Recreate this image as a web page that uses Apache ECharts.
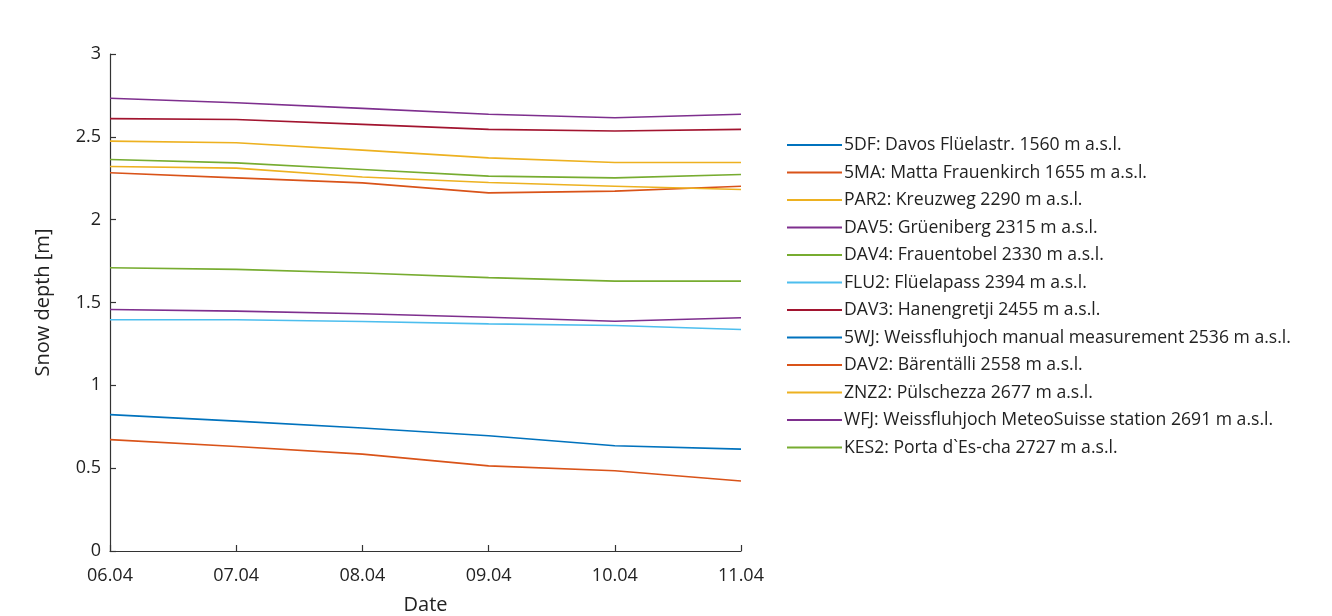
<!DOCTYPE html>
<html><head><meta charset="utf-8">
<script src="https://cdn.jsdelivr.net/npm/echarts@6/dist/echarts.min.js"></script>
<style>html,body{margin:0;padding:0;background:#fff}#c{width:1332px;height:616px}</style>
</head><body><div id="c"></div>
<script>
const dates = ['06.04','07.04','08.04','09.04','10.04','11.04'];
const yTicks = [0, 0.5, 1, 1.5, 2, 2.5, 3];
const names = [
  '5DF: Davos Flüelastr. 1560 m a.s.l.',
  '5MA: Matta Frauenkirch 1655 m a.s.l.',
  'PAR2: Kreuzweg 2290 m a.s.l.',
  'DAV5: Grüeniberg 2315 m a.s.l.',
  'DAV4: Frauentobel 2330 m a.s.l.',
  'FLU2: Flüelapass 2394 m a.s.l.',
  'DAV3: Hanengretji 2455 m a.s.l.',
  '5WJ: Weissfluhjoch manual measurement 2536 m a.s.l.',
  'DAV2: Bärentälli 2558 m a.s.l.',
  'ZNZ2: Pülschezza 2677 m a.s.l.',
  'WFJ: Weissfluhjoch MeteoSuisse station 2691 m a.s.l.',
  'KES2: Porta d`Es-cha 2727 m a.s.l.'
];
const s5DF  = [0.823, 0.784, 0.742, 0.696, 0.635, 0.615];
const s5MA  = [0.672, 0.631, 0.585, 0.514, 0.484, 0.423];
const sPAR2 = [2.474, 2.464, 2.420, 2.373, 2.345, 2.345];
const sDAV5 = [1.458, 1.448, 1.432, 1.411, 1.387, 1.408];
const sDAV4 = [1.710, 1.700, 1.678, 1.650, 1.629, 1.629];
const sFLU2 = [1.396, 1.396, 1.385, 1.371, 1.361, 1.337];
const sDAV3 = [2.610, 2.605, 2.575, 2.545, 2.535, 2.545];
const s5WJ  = [null, null, null, null, null, null];
const sDAV2 = [2.283, 2.252, 2.222, 2.162, 2.172, 2.202];
const sZNZ2 = [2.321, 2.311, 2.258, 2.224, 2.202, 2.182];
const sWFJ  = [2.733, 2.706, 2.672, 2.636, 2.615, 2.636];
const sKES2 = [2.363, 2.343, 2.303, 2.263, 2.252, 2.273];
const seriesData = [s5DF, s5MA, sPAR2, sDAV5, sDAV4, sFLU2, sDAV3, s5WJ, sDAV2, sZNZ2, sWFJ, sKES2];
const colors = ['#0072BD','#D95319','#EDB120','#7E2F8E','#77AC30','#4DBEEE','#A2142F',
                '#0072BD','#D95319','#EDB120','#7E2F8E','#77AC30'];

const font = 'Open Sans';
const axisColor = '#333333';
const textColor = '#222222';
const icon = 'path://M0,0 L55,0 L55,2 L0,2 Z';
const chart = echarts.init(document.getElementById('c'));
chart.setOption({
  animation: false,
  color: colors,
  grid: {left: 110, right: 591, top: 54, bottom: 65, containLabel: false, outerBoundsMode: 'none'},
  legend: {
    orient: 'vertical', left: 782, top: 130,
    itemWidth: 55, itemHeight: 2, itemGap: 7.5,
    icon: icon,
    textStyle: {fontFamily: font, fontSize: 17.6, color: textColor, lineHeight: 20, padding: [0,0,0,-3]},
    data: names.map((n,i)=>({name: n, icon: icon, itemStyle: {color: colors[i]}}))
  },
  xAxis: {
    type: 'category', data: dates, boundaryGap: false,
    name: 'Date', nameLocation: 'middle', nameGap: 44,
    nameTextStyle: {fontFamily: font, fontSize: 20, color: textColor},
    axisLine: {lineStyle: {color: axisColor, width: 1.2}},
    axisTick: {inside: true, length: 6, alignWithLabel: true, lineStyle: {color: axisColor, width: 1.2}},
    axisLabel: {fontFamily: font, fontSize: 18, color: textColor, margin: 16, showMinLabel: true, showMaxLabel: true},
    splitLine: {show: false}
  },
  yAxis: {
    type: 'value', min: yTicks[0], max: yTicks[yTicks.length-1], interval: 0.5,
    name: 'Snow depth [m]', nameLocation: 'middle', nameGap: 57,
    nameTextStyle: {fontFamily: font, fontSize: 20, color: textColor},
    axisLine: {show: true, lineStyle: {color: axisColor, width: 1.2}},
    axisTick: {show: true, inside: true, length: 6, lineStyle: {color: axisColor, width: 1.2}},
    axisLabel: {fontFamily: font, fontSize: 18, color: textColor, margin: 9},
    splitLine: {show: false}
  },
  series: seriesData.map((d,i)=>({
    name: names[i], type: 'line', data: d, symbol: 'none', showSymbol: false,
    lineStyle: {width: 1.6, color: colors[i]}, itemStyle: {color: colors[i]}
  }))
});
</script></body></html>
